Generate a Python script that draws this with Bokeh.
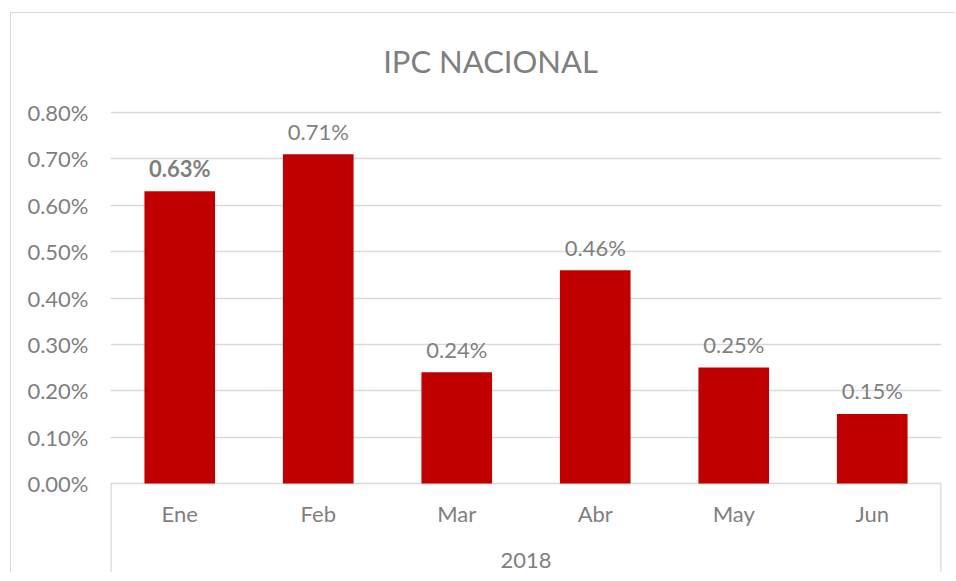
from bokeh.plotting import figure
from bokeh.models import ColumnDataSource, FactorRange, Range1d, FixedTicker, PrintfTickFormatter
from bokeh.core.properties import value
from bokeh.embed import file_html
from bokeh.resources import INLINE

# ---- data ----
months = ["Ene", "Feb", "Mar", "Abr", "May", "Jun"]
ipc = [0.63, 0.71, 0.24, 0.46, 0.25, 0.15]  # percent
year = "2018"
y_ticks = [0.0, 0.1, 0.2, 0.3, 0.4, 0.5, 0.6, 0.7, 0.8]
title_text = "IPC NACIONAL"

FONT = "Lato"
GRAY = "#7f7f7f"
GRID = "#d9d9d9"
RED = "#C00000"

PX_PER_UNIT = 463.75          # pixels per 1 percentage point
Y_MIN = -90 / PX_PER_UNIT     # room below the axis for category labels
Y_MAX = 0.8 + 99 / PX_PER_UNIT  # room above the plot for the title

src = ColumnDataSource(dict(
    month=months,
    ipc=ipc,
    label=[f"{v:.2f}%" for v in ipc],
    style=["bold" if i == 0 else "normal" for i in range(len(ipc))],
))

p = figure(width=945, height=560,
           x_range=FactorRange(*months), y_range=Range1d(Y_MIN, Y_MAX),
           output_backend="svg", toolbar_location=None, x_axis_location=None,
           min_border_left=99, min_border_top=0, min_border_right=15, min_border_bottom=0)
p.margin = (12, 0, 0, 10)
p.styles = {"border-top": f"1px solid {GRID}", "border-left": f"1px solid {GRID}"}
p.outline_line_color = None
p.background_fill_color = "white"
p.border_fill_color = "white"

# y axis
p.yaxis.ticker = FixedTicker(ticks=y_ticks)
p.yaxis.formatter = PrintfTickFormatter(format="%.2f%%")
p.yaxis.axis_line_color = None
p.yaxis.major_tick_line_color = None
p.yaxis.minor_tick_line_color = None
p.yaxis.major_tick_in = 0
p.yaxis.major_tick_out = 0
p.yaxis.major_label_standoff = 22
p.yaxis.major_label_text_font = FONT
p.yaxis.major_label_text_font_size = "22px"
p.yaxis.major_label_text_color = GRAY

p.xgrid.visible = False
p.ygrid.grid_line_color = GRID
p.ygrid.grid_line_width = 1.3

# bars
p.vbar(x="month", top="ipc", width=0.51, source=src, color=RED, line_color=None)

# data labels
p.text(x="month", y="ipc", text="label", source=src, text_align="center",
       text_baseline="middle", y_offset=-23, text_font=value(FONT),
       text_font_size="22px", text_color=GRAY, text_font_style="style")

# category labels
p.text(x=months, y=[0] * len(months), text=months, text_align="center",
       text_baseline="middle", y_offset=30, text_font=value(FONT),
       text_font_size="22px", text_color=GRAY)

# group label
p.text(x=[len(months) / 2], y=[0], text=[year], text_align="center",
       text_baseline="middle", y_offset=77, text_font=value(FONT),
       text_font_size="22px", text_color=GRAY)

# group separators
p.segment(x0=[0, len(months)], y0=[0, 0], x1=[0, len(months)], y1=[Y_MIN, Y_MIN],
          line_color=GRID, line_width=2.5)

# title
p.text(x=[2.744], y=[0.8], text=[title_text], text_align="center",
       text_baseline="middle", y_offset=-52, text_font=value(FONT),
       text_font_size="31px", text_color=GRAY)

open("out.html", "w").write(file_html(p, INLINE))
